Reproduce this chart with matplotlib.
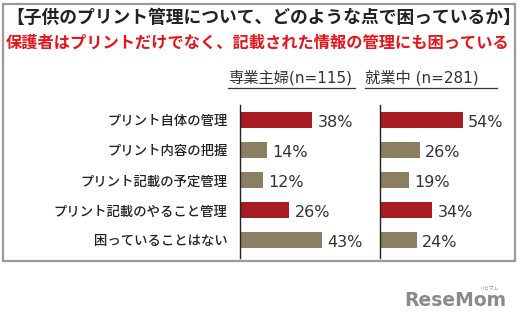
import matplotlib
matplotlib.use("Agg")
import matplotlib.pyplot as plt
from matplotlib.patches import Rectangle
from matplotlib.lines import Line2D

plt.rcParams['font.family'] = ['Noto Sans CJK JP', 'DejaVu Sans']

# data
categories = ["プリント自体の管理", "プリント内容の把握", "プリント記載の予定管理",
              "プリント記載のやること管理", "困っていることはない"]
housewife = [38, 14, 12, 26, 43]
working = [54, 26, 19, 34, 24]
highlight = [True, False, False, True, False]

title1 = "【子供のプリント管理について、どのような点で困っているか】"
title2 = "保護者はプリントだけでなく、記載された情報の管理にも困っている"
header_left = "専業主婦(n=115)"
header_right = "就業中 (n=281)"

RED = "#a61c22"
TAN = "#8b7e62"

W, H = 520, 334


def fx(px):
    return px / W


def fy(py):
    return 1 - py / H


fig = plt.figure(figsize=(W / 100, H / 100), dpi=100)

# outer frame
fig.add_artist(Rectangle((fx(3), fy(261)), fx(512), (261 - 4) / H,
                         transform=fig.transFigure, fill=False,
                         edgecolor="#9a9a9a", lw=1.6))

fig.text(fx(6), fy(18), title1, fontsize=12.8, fontweight="bold",
         color="#222222", va="center", ha="left")
fig.text(fx(6), fy(43), title2, fontsize=11.7, fontweight="bold",
         color="#e8141b", va="center", ha="left")

hdr_font = ['DejaVu Sans', 'Noto Sans CJK JP']
fig.text(fx(228), fy(78), header_left, fontsize=11, color="#333333",
         va="center", ha="left", family=hdr_font)
fig.text(fx(365), fy(78), header_right, fontsize=11, color="#333333",
         va="center", ha="left", family=hdr_font)
for x0, x1 in [(228, 355), (365, 497)]:
    fig.add_artist(Line2D([fx(x0), fx(x1)], [fy(88), fy(88)],
                          transform=fig.transFigure, color="#333333", lw=0.9))

colors = [RED if h else TAN for h in highlight]
ypos = list(range(len(categories)))


def panel(left_px, scale, values, show_labels):
    ax = fig.add_axes([fx(left_px), fy(258), fx(120), (258 - 105) / H])
    ax.barh(ypos, values, height=0.53, color=colors)
    ax.set_ylim(4.6, -0.5)
    ax.set_xlim(0, 120 / scale)
    for s in ["top", "right", "bottom"]:
        ax.spines[s].set_visible(False)
    ax.spines["left"].set_color("#222222")
    ax.spines["left"].set_linewidth(1.0)
    ax.set_xticks([])
    ax.set_yticks(ypos)
    ax.tick_params(axis="y", length=0, pad=9)
    if show_labels:
        ax.set_yticklabels(categories, fontsize=9.6, color="#222222",
                           fontweight="medium")
    else:
        ax.set_yticklabels([])
    ax.patch.set_alpha(0)
    for y, v in zip(ypos, values):
        ax.annotate(f"{v}%", (v, y), xytext=(4, -2), textcoords="offset points",
                    ha="left", va="center", fontsize=11.5,
                    family="DejaVu Sans", color="#333333")
    return ax


panel(240, 1.9, housewife, True)
panel(380, 1.53, working, False)

# site logo
fig.text(fx(455), fy(300), "ReseMom", fontsize=13.5, fontweight="bold",
         color="#8a8a8a", ha="center", va="center", family="DejaVu Sans")
fig.text(fx(490), fy(288), "リセマム", fontsize=3.5, color="#8a8a8a",
         ha="center", va="center")

fig.savefig("out.png", dpi=100)
